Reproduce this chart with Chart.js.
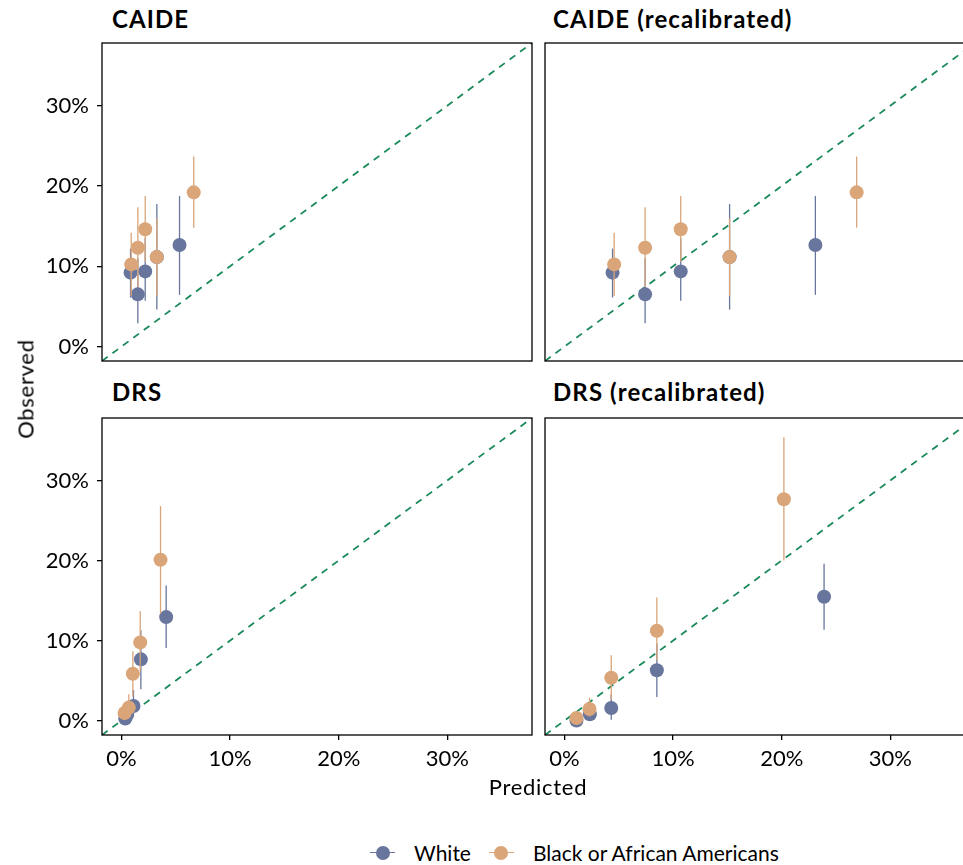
<!DOCTYPE html>
<html>
<head>
<meta charset="utf-8">
<script src="https://cdn.jsdelivr.net/npm/chart.js@4.4.0/dist/chart.umd.min.js"></script>
<style>
  body { margin: 0; width: 963px; height: 865px; overflow: hidden; background: #fff; position: relative; font-family: Lato, sans-serif; color: #000; }
  .panel { position: absolute; }
  .title { position: absolute; font-weight: bold; font-size: 24px; letter-spacing: 1.1px; white-space: nowrap; }
  .axis-title { position: absolute; font-size: 22px; letter-spacing: 0.7px; white-space: nowrap; }
  #legend { position: absolute; left: 370px; top: 840px; display: flex; align-items: center; font-size: 21px; }
  .key { position: relative; width: 25px; height: 16px; margin-right: 19px; }
  .key .ln { position: absolute; left: 0; right: 0; top: 7.5px; height: 1.2px; }
  .key .dot { position: absolute; left: 5.5px; top: 1px; width: 14px; height: 14px; border-radius: 50%; }
  .item { display: flex; align-items: center; margin-right: 18px; }
</style>
</head>
<body>

<div class="title" style="left:112px; top:4px;">CAIDE</div>
<div class="title" style="left:553px; top:4px;">CAIDE (recalibrated)</div>
<div class="title" style="left:112px; top:377px;">DRS</div>
<div class="title" style="left:553px; top:377px;">DRS (recalibrated)</div>

<div class="panel" style="left:0; top:0;"><canvas id="p0" width="545" height="370"></canvas></div>
<div class="panel" style="left:535px; top:0;"><canvas id="p1" width="450" height="370"></canvas></div>
<div class="panel" style="left:0; top:380px;"><canvas id="p2" width="545" height="440"></canvas></div>
<div class="panel" style="left:535px; top:380px;"><canvas id="p3" width="450" height="440"></canvas></div>

<div class="axis-title" style="left:538px; top:773px; transform:translateX(-50%);">Predicted</div>
<div class="axis-title" style="left:25px; top:389px; transform:translate(-50%,-50%) rotate(-90deg);">Observed</div>

<div id="legend"></div>

<script>
// panel titles, groups, axis ticks
const panelTitles = ['CAIDE', 'CAIDE (recalibrated)', 'DRS', 'DRS (recalibrated)'];
const groups = ['White', 'Black or African Americans'];
const groupColors = ['#68769e', '#daa578'];
const tickValues = [0, 10, 20, 30];
const axisLimits = [-1.8, 37.8];

// CAIDE - observed risk (%) with 95% CI, same groups in both panels
const caideWhiteObs = [9.2, 6.5, 9.36, 11.14, 12.64];
const caideWhiteLo  = [6.1, 2.9, 5.7, 4.6, 6.44];
const caideWhiteHi  = [12.2, 11.0, 13.5, 17.75, 18.76];
const caideBlackObs = [10.23, 12.3, 14.6, 11.14, 19.2];
const caideBlackLo  = [6.28, 7.4, 10.55, 6.28, 14.8];
const caideBlackHi  = [14.17, 17.34, 18.75, 15.97, 23.66];

// CAIDE predicted (%)
const caideWhitePred = [0.83, 1.5, 2.18, 3.25, 5.34];
const caideBlackPred = [0.89, 1.5, 2.18, 3.25, 6.65];
const caideRecalWhitePred = [4.42, 7.42, 10.7, 15.2, 23.1];
const caideRecalBlackPred = [4.57, 7.42, 10.7, 15.2, 26.9];

// DRS
const drsWhitePred = [0.34, 0.49, 1.1, 1.78, 4.11];
const drsWhiteObs  = [0.25, 0.66, 1.82, 7.65, 12.93];
const drsWhiteLo   = [0.0, 0.1, 0.5, 3.9, 9.06];
const drsWhiteHi   = [0.8, 1.5, 3.8, 11.27, 16.88];
const drsBlackPred = [0.28, 0.67, 1.04, 1.72, 3.59];
const drsBlackObs  = [0.95, 1.62, 5.86, 9.77, 20.1];
const drsBlackLo   = [0.1, 0.4, 3.0, 6.2, 13.35];
const drsBlackHi   = [2.0, 3.3, 8.65, 13.67, 26.8];

// DRS (recalibrated)
const drsRecalWhitePred = [1.1, 2.33, 4.3, 8.5, 23.9];
const drsRecalWhiteObs  = [0.0, 0.79, 1.57, 6.28, 15.47];
const drsRecalWhiteLo   = [0.0, 0.2, 0.1, 2.95, 11.35];
const drsRecalWhiteHi   = [0.6, 1.8, 3.3, 9.6, 19.6];
const drsRecalBlackPred = [1.1, 2.3, 4.3, 8.5, 20.2];
const drsRecalBlackObs  = [0.33, 1.45, 5.36, 11.23, 27.65];
const drsRecalBlackLo   = [0.0, 0.5, 2.6, 7.5, 20.0];
const drsRecalBlackHi   = [1.2, 2.87, 8.15, 15.38, 35.4];

const panels = [
  { id: 'p0', white: [caideWhitePred, caideWhiteObs, caideWhiteLo, caideWhiteHi], black: [caideBlackPred, caideBlackObs, caideBlackLo, caideBlackHi], left: true, bottom: false },
  { id: 'p1', white: [caideRecalWhitePred, caideWhiteObs, caideWhiteLo, caideWhiteHi], black: [caideRecalBlackPred, caideBlackObs, caideBlackLo, caideBlackHi], left: false, bottom: false },
  { id: 'p2', white: [drsWhitePred, drsWhiteObs, drsWhiteLo, drsWhiteHi], black: [drsBlackPred, drsBlackObs, drsBlackLo, drsBlackHi], left: true, bottom: true },
  { id: 'p3', white: [drsRecalWhitePred, drsRecalWhiteObs, drsRecalWhiteLo, drsRecalWhiteHi], black: [drsRecalBlackPred, drsRecalBlackObs, drsRecalBlackLo, drsRecalBlackHi], left: false, bottom: true }
];

// vertical CI lines, drawn just before each group's points
const errorBars = {
  id: 'errorBars',
  beforeDatasetDraw(chart, args) {
    const ds = chart.data.datasets[args.index];
    if (!ds.lo) return;
    const ctx = chart.ctx, xs = chart.scales.x, ys = chart.scales.y;
    ctx.save();
    ctx.strokeStyle = ds.backgroundColor;
    ctx.lineWidth = 1.3;
    ds.data.forEach((p, i) => {
      const px = xs.getPixelForValue(p.x);
      ctx.beginPath();
      ctx.moveTo(px, ys.getPixelForValue(ds.lo[i]));
      ctx.lineTo(px, ys.getPixelForValue(ds.hi[i]));
      ctx.stroke();
    });
    ctx.restore();
  }
};

const panelBox = {
  id: 'panelBox',
  afterDraw(chart) {
    const a = chart.chartArea, ctx = chart.ctx;
    ctx.save();
    ctx.strokeStyle = '#000';
    ctx.lineWidth = 1.3;
    ctx.strokeRect(a.left, a.top, a.right - a.left, a.bottom - a.top);
    ctx.restore();
  }
};

function toPoints(pred, obs) {
  return pred.map((x, i) => ({ x: x, y: obs[i] }));
}

function axis(show, isY) {
  return {
    type: 'linear',
    display: show,
    min: axisLimits[0],
    max: axisLimits[1],
    afterBuildTicks: s => { s.ticks = tickValues.map(v => ({ value: v })); },
    afterFit: s => {
      s.paddingTop = 0; s.paddingBottom = 0; s.paddingLeft = 0; s.paddingRight = 0;
      if (show) { if (isY) s.width = 102; else s.height = 85; }
    },
    grid: { drawOnChartArea: false, drawTicks: true, tickLength: 5, color: '#000', lineWidth: 1.3 },
    border: { display: false },
    ticks: { color: '#000', padding: isY ? 8 : 6, font: { family: 'Lato', size: 22 }, callback: v => v + '%', maxRotation: 0 }
  };
}

panels.forEach(p => {
  new Chart(document.getElementById(p.id), {
    type: 'scatter',
    data: {
      datasets: [
        { label: 'diag', data: axisLimits.map(v => ({ x: v, y: v })), showLine: true, borderColor: '#1b8a5a', borderWidth: 1.8, borderDash: [7, 6], pointRadius: 0, order: 2 },
        { label: groups[0], data: toPoints(p.white[0], p.white[1]), lo: p.white[2], hi: p.white[3], backgroundColor: groupColors[0], borderWidth: 0, pointRadius: 7, order: 1 },
        { label: groups[1], data: toPoints(p.black[0], p.black[1]), lo: p.black[2], hi: p.black[3], backgroundColor: groupColors[1], borderWidth: 0, pointRadius: 7, order: 0 }
      ]
    },
    options: {
      responsive: false,
      animation: false,
      devicePixelRatio: 1,
      layout: { padding: { top: p.bottom ? 38 : 43, bottom: p.bottom ? 0 : 9, left: p.left ? 0 : 10, right: p.left ? 13 : 10 } },
      plugins: { legend: { display: false }, tooltip: { enabled: false } },
      scales: { x: axis(p.bottom, false), y: axis(p.left, true) }
    },
    plugins: [errorBars, panelBox]
  });
});

// legend
const legend = document.getElementById('legend');
groups.forEach((g, i) => {
  const item = document.createElement('div');
  item.className = 'item';
  item.innerHTML = '<div class="key"><div class="ln" style="background:' + groupColors[i] + '"></div><div class="dot" style="background:' + groupColors[i] + '"></div></div><span>' + g + '</span>';
  legend.appendChild(item);
});
</script>
</body>
</html>
